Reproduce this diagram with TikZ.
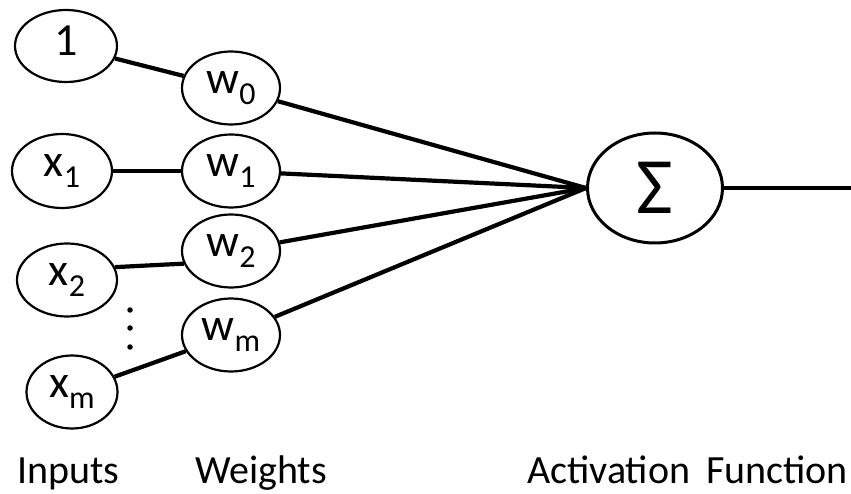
\documentclass[tikz,border=0pt]{standalone}
\usepackage{fontspec}
\setmainfont{Carlito}
\usetikzlibrary{shapes.geometric}
\newcommand\nlab[2]{{\fontsize{46}{46}\selectfont #1\raisebox{-11pt}{\fontsize{32}{32}\selectfont #2}}}
\tikzset{
  unit/.style={ellipse, draw=black, line width=2.2pt, fill=white, inner sep=0pt,
    minimum width=100pt, minimum height=73pt},
  sumnode/.style={ellipse, draw=black, line width=3pt, fill=white, inner sep=0pt,
    minimum width=135pt, minimum height=110pt},
  conn/.style={line width=4.2pt, black},
  caption/.style={anchor=base west, inner sep=0pt, font=\fontsize{40}{40}\selectfont},
  dotmark/.style={circle, fill=black, inner sep=0pt, minimum size=5.5pt}
}
\begin{document}
\begin{tikzpicture}[x=1pt,y=1pt]
\useasboundingbox (0,0) rectangle (851,493);
\coordinate (out) at (851,305);
% nodes
\node[unit, minimum width=102pt, minimum height=72pt] (one) at (66,447) {\nlab{1}{}};
\node[unit, minimum width=98pt] (w0) at (231,405) {\nlab{w}{0}};
\node[unit, minimum height=74pt] (x1) at (62,322) {\nlab{x}{1}};
\node[unit, minimum width=98pt] (w1) at (231,322) {\nlab{w}{1}};
\node[unit] (x2) at (67,213) {\nlab{x}{2}};
\node[unit, minimum width=98pt] (w2) at (231,242) {\nlab{w}{2}};
\node[unit, minimum width=98pt] (wm) at (231,158) {\nlab{w}{m}};
\node[unit, minimum width=91pt] (xm) at (72,101) {\nlab{x}{m}};
\node[sumnode] (sum) at (655,305) {\fontsize{80}{80}\selectfont Σ};
% dots
\node[dotmark] (d1) at (130,183) {};
\node[dotmark] (d2) at (130,165) {};
\node[dotmark] (d3) at (130,146) {};
% connectors
\draw[conn] (one) -- (w0);
\draw[conn] (x1) -- (w1);
\draw[conn] (x2.15) -- (w2.195);
\draw[conn] (xm) -- (wm);
\draw[conn] (w0) -- (sum.west);
\draw[conn] (w1) -- (sum.west);
\draw[conn] (w2) -- (sum.west);
\draw[conn] (wm) -- (sum.west);
\draw[conn] (sum.east) -- (out);
% captions
\node[caption] (inputs) at (17,10) {Inputs};
\node[caption] (weights) at (195,10) {Weights};
\node[caption] (act) at (527,10) {Activation\hspace{0.4em}Function};
\end{tikzpicture}
\end{document}
